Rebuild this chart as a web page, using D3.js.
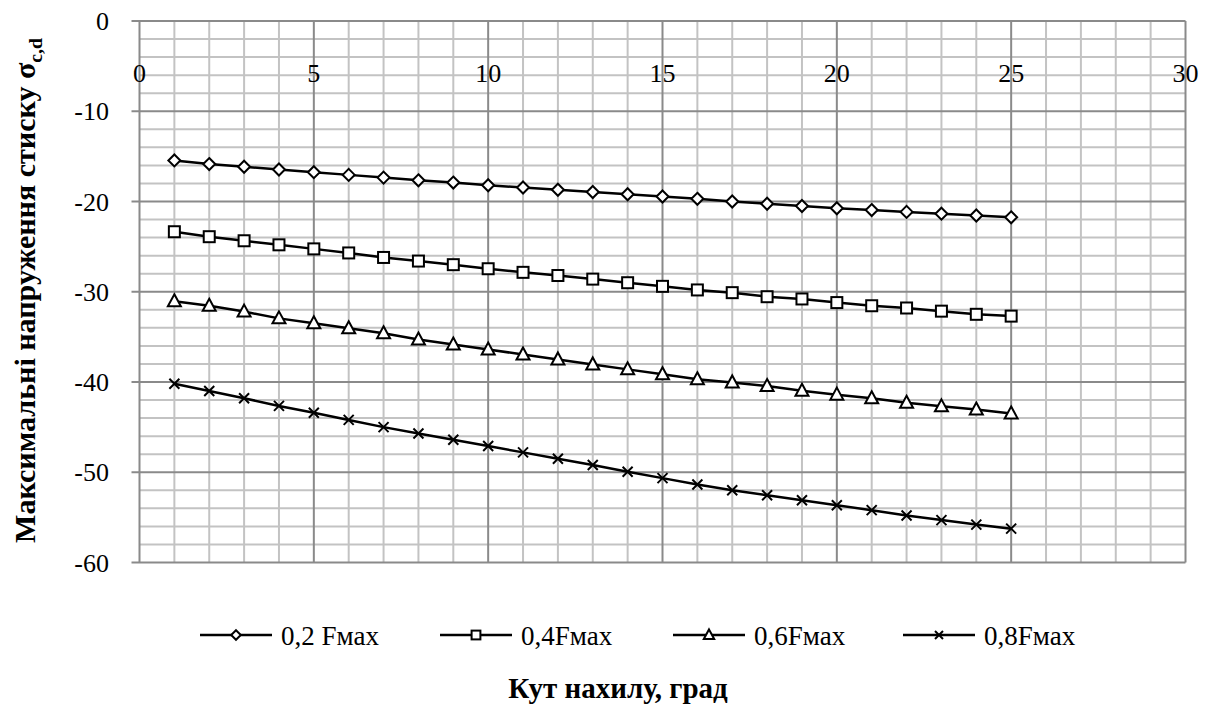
<!DOCTYPE html>
<html>
<head>
<meta charset="utf-8">
<script src="https://cdnjs.cloudflare.com/ajax/libs/d3/7.8.5/d3.min.js"></script>
</head>
<body style="margin:0">
<script>
// angle of inclination, degrees
const angles = d3.range(1, 26);

const seriesNames = ["0,2 Fмах", "0,4Fмах", "0,6Fмах", "0,8Fмах"];
const symbolsOf = ["diamond", "square", "triangle", "cross"];

const s02 = [-15.45, -15.85, -16.15, -16.45, -16.75, -17.05, -17.35, -17.65, -17.9, -18.2,
             -18.45, -18.7, -18.95, -19.2, -19.45, -19.7, -20.0, -20.25, -20.5, -20.75,
             -20.95, -21.15, -21.35, -21.55, -21.75];
const s04 = [-23.35, -23.9, -24.35, -24.8, -25.25, -25.7, -26.2, -26.6, -27.0, -27.45,
             -27.85, -28.2, -28.6, -29.0, -29.4, -29.8, -30.1, -30.55, -30.8, -31.2,
             -31.55, -31.8, -32.15, -32.5, -32.7];
const s06 = [-31.05, -31.55, -32.2, -32.95, -33.5, -34.05, -34.6, -35.3, -35.85, -36.4,
             -36.95, -37.5, -38.05, -38.6, -39.15, -39.7, -40.05, -40.45, -40.98, -41.4,
             -41.8, -42.3, -42.7, -43.05, -43.5];
const s08 = [-40.2, -41.0, -41.8, -42.65, -43.4, -44.2, -45.0, -45.7, -46.4, -47.1,
             -47.8, -48.5, -49.2, -49.95, -50.65, -51.35, -52.0, -52.55, -53.1, -53.65,
             -54.2, -54.8, -55.3, -55.8, -56.25];

const xTicks = [0, 5, 10, 15, 20, 25, 30];
const yTicks = [0, -10, -20, -30, -40, -50, -60];

const xTitle = "Кут нахилу, град";
const yTitle = "Максимальні напруження стиску σ";
const ySub = "c,d";

const width = 1212, height = 707;
const plotL = 139.5, plotR = 1185.5, plotT = 21, plotB = 562.5;
const fontName = "Liberation Serif";

const svg = d3.select("body").append("svg")
    .attr("width", width)
    .attr("height", height);

const x = d3.scaleLinear().domain([0, 30]).range([plotL, plotR]);
const y = d3.scaleLinear().domain([0, -60]).range([plotT, plotB]);

const minorColor = "#c3c3c3", majorColor = "#8a8a8a";

function label(g) {
    return g.append("text")
        .style("font-family", `"${fontName}", monospace`);
}

// minor grid
const grid = svg.append("g");
d3.range(0, 31, 1).filter(v => v % 5 !== 0).forEach(v => {
    grid.append("line")
        .attr("x1", x(v)).attr("x2", x(v))
        .attr("y1", plotT).attr("y2", plotB)
        .attr("stroke", minorColor).attr("stroke-width", 2);
});
d3.range(0, -61, -2).filter(v => v % 10 !== 0).forEach(v => {
    grid.append("line")
        .attr("x1", plotL).attr("x2", plotR)
        .attr("y1", y(v)).attr("y2", y(v))
        .attr("stroke", minorColor).attr("stroke-width", 2);
});
// major grid
xTicks.forEach(v => {
    grid.append("line")
        .attr("x1", x(v)).attr("x2", x(v))
        .attr("y1", plotT).attr("y2", plotB)
        .attr("stroke", majorColor).attr("stroke-width", 2);
});
yTicks.forEach(v => {
    grid.append("line")
        .attr("x1", plotL - 8).attr("x2", plotR)
        .attr("y1", y(v)).attr("y2", y(v))
        .attr("stroke", majorColor).attr("stroke-width", 2);
});

// tick labels
const yLab = svg.append("g");
yTicks.forEach(v => {
    label(yLab)
        .attr("x", 109)
        .attr("y", y(v) + 9)
        .attr("text-anchor", "end")
        .attr("font-size", 26)
        .text(v);
});
const xLab = svg.append("g");
xTicks.forEach(v => {
    label(xLab)
        .attr("x", x(v))
        .attr("y", 82)
        .attr("text-anchor", "middle")
        .attr("font-size", 26)
        .text(v);
});

// series
const allSeries = [s02, s04, s06, s08];
const line = d3.line().x((d, i) => x(angles[i])).y(d => y(d));

function drawMarker(g, kind, cx, cy, s) {
    if (kind === "diamond") {
        g.append("path")
            .attr("d", `M${cx},${cy - 6 * s}L${cx + 6 * s},${cy}L${cx},${cy + 6 * s}L${cx - 6 * s},${cy}Z`)
            .attr("fill", "#fff").attr("stroke", "#000").attr("stroke-width", 2);
    } else if (kind === "square") {
        g.append("rect")
            .attr("x", cx - 5.5 * s).attr("y", cy - 5.5 * s)
            .attr("width", 11 * s).attr("height", 11 * s)
            .attr("fill", "#fff").attr("stroke", "#000").attr("stroke-width", 2);
    } else if (kind === "triangle") {
        g.append("path")
            .attr("d", `M${cx},${cy - 7 * s}L${cx + 6.5 * s},${cy + 5 * s}L${cx - 6.5 * s},${cy + 5 * s}Z`)
            .attr("fill", "#fff").attr("stroke", "#000").attr("stroke-width", 2);
    } else {
        g.append("path")
            .attr("d", `M${cx - 5 * s},${cy - 5 * s}L${cx + 5 * s},${cy + 5 * s}M${cx - 5 * s},${cy + 5 * s}L${cx + 5 * s},${cy - 5 * s}`)
            .attr("stroke", "#000").attr("stroke-width", 2);
    }
}

allSeries.forEach((vals, si) => {
    const g = svg.append("g");
    g.append("path")
        .datum(vals)
        .attr("d", line)
        .attr("fill", "none")
        .attr("stroke", "#000")
        .attr("stroke-width", 2.5);
    vals.forEach((v, i) => drawMarker(g, symbolsOf[si], x(angles[i]), y(v), 1));
});

// legend
const legendX = [200, 440, 673, 903];
const legend = svg.append("g");
seriesNames.forEach((name, i) => {
    const lx = legendX[i], ly = 635;
    legend.append("line")
        .attr("x1", lx).attr("x2", lx + 72)
        .attr("y1", ly).attr("y2", ly)
        .attr("stroke", "#000").attr("stroke-width", 2.5);
    drawMarker(legend, symbolsOf[i], lx + 36, ly, 0.8);
    label(legend)
        .attr("x", lx + 81)
        .attr("y", ly + 10)
        .attr("font-size", 27)
        .text(name);
});

// axis titles
label(svg)
    .attr("x", 618)
    .attr("y", 698)
    .attr("text-anchor", "middle")
    .attr("font-size", 29)
    .attr("font-weight", "bold")
    .text(xTitle);

const yt = label(svg)
    .attr("transform", "translate(35,290.5) rotate(-90)")
    .attr("text-anchor", "middle")
    .attr("font-size", 29)
    .attr("font-weight", "bold")
    .attr("textLength", 505)
    .attr("lengthAdjust", "spacingAndGlyphs");
yt.append("tspan").text(yTitle);
yt.append("tspan")
    .attr("font-size", 19)
    .attr("dy", 7)
    .text(ySub);
</script>
</body>
</html>
